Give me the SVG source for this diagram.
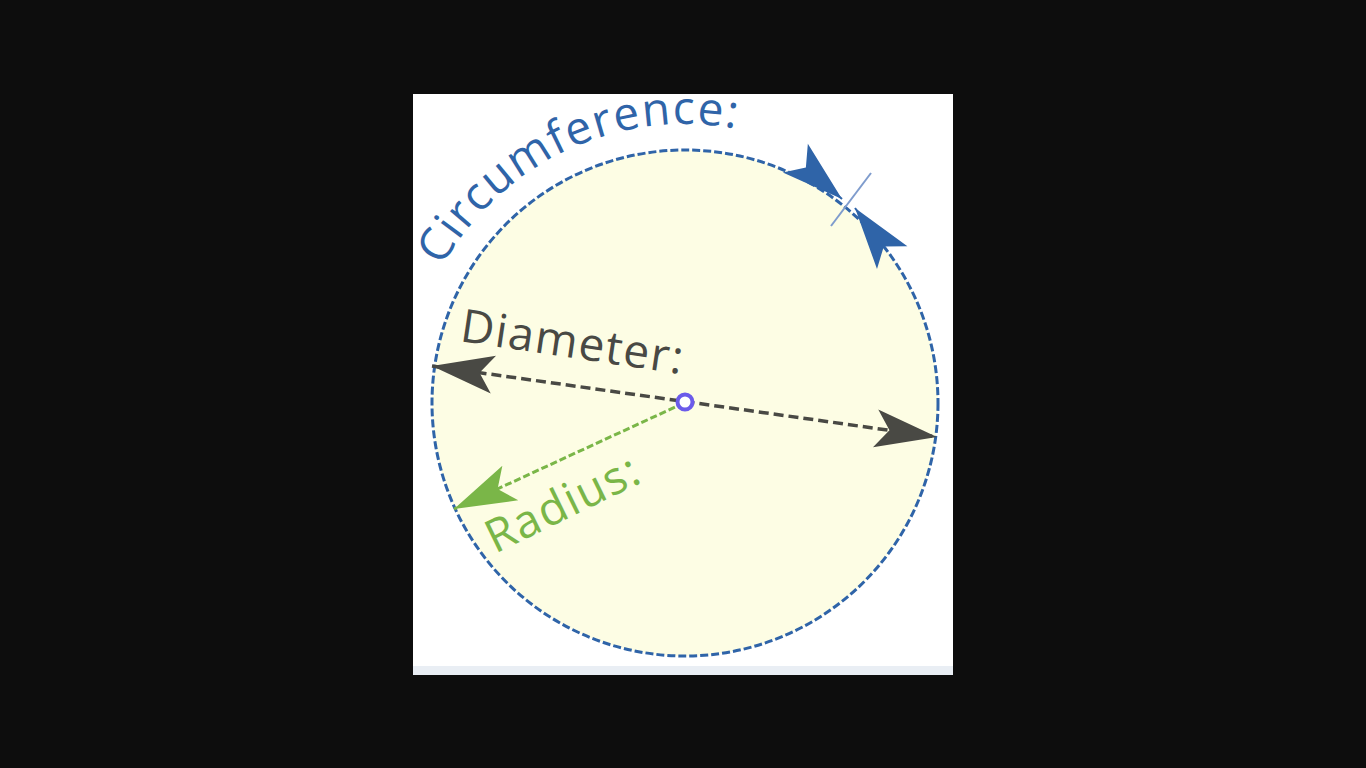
<svg xmlns="http://www.w3.org/2000/svg" width="1366" height="768" viewBox="0 0 1366 768">
  <defs>
    <style>
      .lbl { font-family: "Open Sans", "Noto Sans", sans-serif; font-size: 46px; letter-spacing: 1.5px; }
    </style>
    <path id="head" d="M0,0 L-62,-19 L-48,0 L-62,19 Z"/>
    <marker id="mGray" markerUnits="userSpaceOnUse" viewBox="-64 -21 66 42" refX="0" refY="0" markerWidth="66" markerHeight="42" orient="auto-start-reverse" overflow="visible">
      <use href="#head" fill="#494944"/>
    </marker>
    <marker id="mGreen" markerUnits="userSpaceOnUse" viewBox="-64 -21 66 42" refX="0" refY="0" markerWidth="66" markerHeight="42" orient="auto" overflow="visible">
      <use href="#head" fill="#7ab648"/>
    </marker>
    <marker id="mBlue" markerUnits="userSpaceOnUse" viewBox="-64 -21 66 42" refX="0" refY="0" markerWidth="66" markerHeight="42" orient="auto" overflow="visible">
      <use href="#head" fill="#2f64a8"/>
    </marker>
    <path id="circArc" d="M433.1,284.5 A278,278 0 0 1 824,161.2"/>
  </defs>
  <rect width="1366" height="768" fill="#0d0d0d"/>
  <rect x="413" y="94" width="540" height="581" fill="#ffffff"/>
  <rect x="413" y="666" width="540" height="9" fill="#e9eef4"/>

  <g id="circle">
    <circle cx="685" cy="403" r="253" fill="#fdfde4" stroke="#2f64a8" stroke-width="3" stroke-dasharray="8 3"/>
  </g>

  <g id="connectors">
    <line x1="432" y1="366" x2="937" y2="437" stroke="#494944" stroke-width="3.5" stroke-dasharray="10 5" marker-start="url(#mGray)" marker-end="url(#mGray)"/>
    <line x1="684" y1="403" x2="454" y2="509" stroke="#7ab648" stroke-width="3" stroke-dasharray="7 3" marker-end="url(#mGreen)"/>
    <line x1="826" y1="185" x2="842" y2="199" stroke="#2f64a8" stroke-width="2" marker-end="url(#mBlue)"/>
    <line x1="867" y1="224" x2="855" y2="208" stroke="#2f64a8" stroke-width="2" marker-end="url(#mBlue)"/>
    <line x1="831" y1="226" x2="871" y2="173" stroke="#7f9ccd" stroke-width="2"/>
  </g>

  <g id="center">
    <circle cx="685" cy="402" r="7.5" fill="#ffffff" stroke="#6b5bea" stroke-width="4"/>
  </g>

  <g id="labels">
    <text class="lbl" fill="#2f64a8"><textPath href="#circArc" startOffset="20">Circumference:</textPath></text>
    <text class="lbl" fill="#494944" transform="translate(459,341) rotate(8.5)">Diameter:</text>
    <text class="lbl" fill="#7ab648" transform="translate(495,554) rotate(-26)">Radius:</text>
  </g>
</svg>
